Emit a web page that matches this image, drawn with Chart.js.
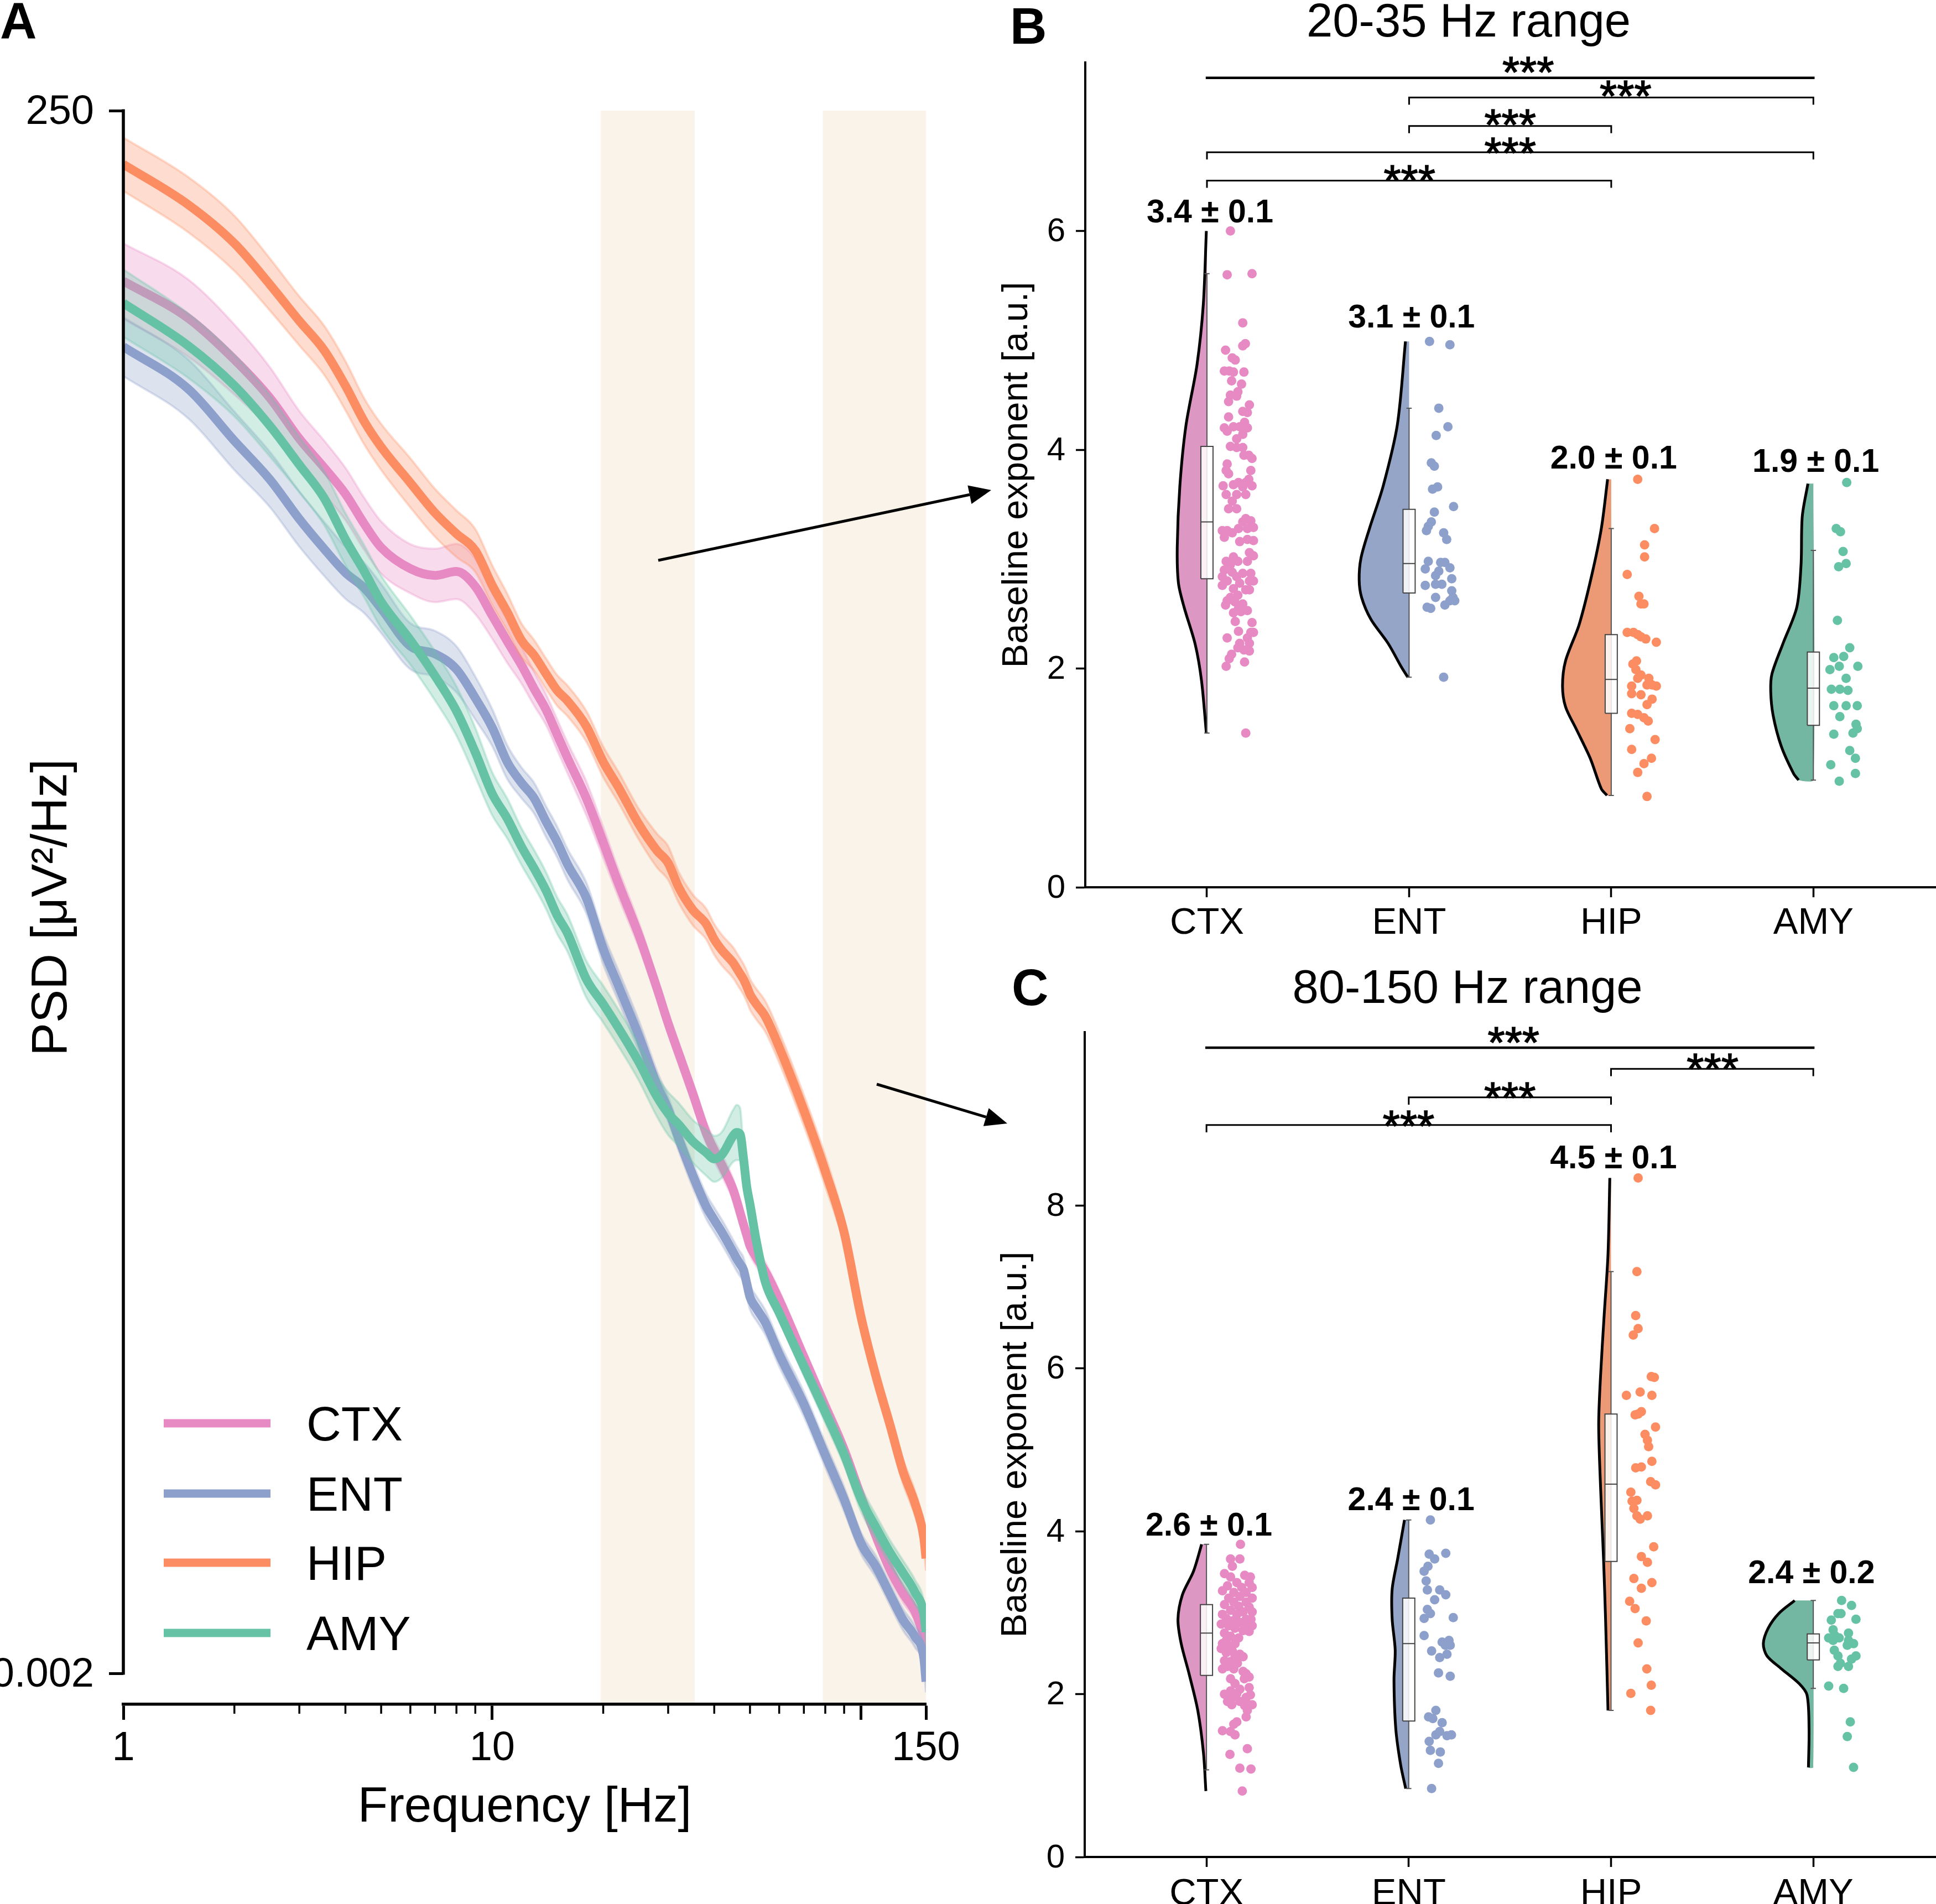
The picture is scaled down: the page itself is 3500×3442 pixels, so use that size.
<!DOCTYPE html>
<html><head><meta charset="utf-8">
<style>html,body{margin:0;padding:0;background:#fff;width:3500px;height:3442px;overflow:hidden}
canvas{position:absolute;left:0;top:0}</style>
<script src="https://cdn.jsdelivr.net/npm/chart.js@4"></script>
</head><body>
<canvas id="a" width="3500" height="3442"></canvas>
<canvas id="b" width="3509" height="3442"></canvas>
<canvas id="c" width="3509" height="3442"></canvas>
<script>
const categories=['CTX','ENT','HIP','AMY'];
const colors={CTX:'#E78AC3',ENT:'#8DA0CB',HIP:'#FC8D62',AMY:'#66C2A5'};
const rgba={CTX:'231,138,195',ENT:'141,160,203',HIP:'252,141,98',AMY:'102,194,165'};
const violinFill={CTX:'#DD97C3',ENT:'#94A5C8',HIP:'#EB9A75',AMY:'#73B6A1'};

// Panel A: frequency in Hz, PSD readings in log10(uV^2/Hz), band half-widths in decades
const freqs=[1,1.5,2,2.5,3,3.5,4,4.5,5,6,7,8,9,10,11,12,13,14,15,16,18,20,22,25,28,30,32,35,38,40,42,45,46,47,48,49,50,52,55,60,70,80,90,100,110,120,130,140,148,150];
const ctxLog=[1.842,1.721,1.586,1.460,1.328,1.234,1.148,1.050,.973,.904,.882,.895,.846,.751,.666,.590,.512,.444,.363,.287,.155,.011,-.123,-.292,-.466,-.579,-.675,-.808,-.935,-.994,-1.043,-1.121,-1.157,-1.196,-1.234,-1.270,-1.305,-1.341,-1.388,-1.481,-1.667,-1.828,-1.969,-2.122,-2.254,-2.362,-2.438,-2.497,-2.582,-2.618];
const entLog=[1.628,1.490,1.321,1.194,1.066,.969,.891,.841,.774,.651,.626,.576,.482,.386,.272,.206,.155,.079,.013,-.060,-.170,-.336,-.457,-.621,-.781,-.859,-.953,-1.075,-1.175,-1.220,-1.261,-1.325,-1.346,-1.364,-1.382,-1.427,-1.472,-1.508,-1.554,-1.658,-1.821,-1.987,-2.131,-2.275,-2.353,-2.443,-2.524,-2.579,-2.649,-2.726];
const hipLog=[2.223,2.091,1.965,1.830,1.712,1.617,1.501,1.384,1.301,1.184,1.086,1.018,.963,.850,.761,.671,.621,.561,.507,.473,.390,.274,.191,.070,-.016,-.056,-.134,-.209,-.254,-.305,-.341,-.381,-.399,-.417,-.435,-.458,-.484,-.516,-.556,-.657,-.863,-1.061,-1.261,-1.536,-1.734,-1.891,-2.041,-2.144,-2.257,-2.324];
const amyLog=[1.770,1.631,1.501,1.369,1.243,1.135,1.000,.895,.796,.671,.554,.440,.305,.170,.088,-.002,-.074,-.146,-.227,-.285,-.435,-.516,-.594,-.706,-.819,-.873,-.908,-.964,-1.000,-1.021,-1.007,-.946,-.935,-.940,-1.018,-1.112,-1.169,-1.288,-1.422,-1.523,-1.698,-1.848,-1.985,-2.131,-2.225,-2.306,-2.371,-2.434,-2.505,-2.564];
const ctxBand=[.123,.126,.114,.1,.09,.088,.085,.085,.085,.08,.087,.09,.09,.075,.07,.06,.055,.05,.05,.05,.055,.05,.045,.04,.035,.035,.035,.035,.035,.035,.035,.035,.035,.035,.03,.03,.03,.03,.03,.03,.03,.03,.03,.03,.03,.03,.03,.03,.03,.03];
const entBand=[.096,.096,.095,.09,.09,.088,.085,.082,.08,.075,.075,.075,.07,.06,.055,.05,.05,.05,.05,.05,.05,.05,.05,.05,.045,.04,.04,.04,.04,.04,.04,.04,.04,.04,.04,.04,.04,.04,.04,.04,.04,.04,.04,.035,.035,.035,.035,.035,.035,.035];
const hipBand=[.087,.09,.09,.085,.08,.08,.08,.075,.075,.08,.078,.076,.07,.065,.06,.055,.05,.05,.05,.05,.05,.05,.05,.05,.055,.055,.05,.05,.05,.05,.05,.05,.05,.05,.05,.05,.05,.05,.05,.05,.05,.05,.04,.04,.04,.04,.04,.04,.04,.04];
const amyBand=[.11,.105,.1,.1,.09,.088,.085,.085,.085,.08,.08,.08,.08,.07,.065,.06,.06,.06,.06,.06,.06,.06,.06,.06,.065,.07,.07,.07,.075,.075,.075,.085,.09,.085,.03,.02,.02,.02,.02,.025,.03,.035,.035,.04,.04,.04,.04,.04,.04,.04];
const shadedBands=[[19.7,35.4],[78.8,150]];
const psdTicks=[250,0.002];
const freqMajor=[1,10,100,150];
const freqLabelled=[1,10,150];
const freqMinor=[2,3,4,5,6,7,8,9,20,30,40,50,60,70,80,90];

// Panel B (20-35 Hz): violin outlines [y, half-density width in category units]
const bCtxViolinY=[6.0,5.33,4.78,4.22,3.67,3.11,2.78,2.56,2.22,1.89,1.41];
const bCtxViolinW=[.003,.018,.049,.104,.134,.147,.141,.113,.058,.027,.003];
const bEntViolinY=[4.99,4.23,3.67,3.28,3.01,2.81,2.65,2.45,2.23,2.01,1.92];
const bEntViolinW=[.018,.058,.128,.196,.238,.247,.235,.189,.104,.037,.006];
const bHipViolinY=[3.73,3.28,2.84,2.40,2.07,1.84,1.65,1.45,1.18,.90,.84];
const bHipViolinW=[.018,.049,.098,.159,.226,.241,.226,.174,.104,.049,.021];
const bAmyViolinY=[3.69,3.39,2.95,2.56,2.23,1.95,1.79,1.57,1.29,1.04,.98];
const bAmyViolinW=[.027,.055,.061,.082,.150,.205,.211,.199,.159,.098,.073];
// box stats: [whiskerLow,q1,median,q3,whiskerHigh]
const bBoxes=[[1.41,2.82,3.34,4.03,5.61],[1.92,2.69,2.96,3.455,4.38],[.84,1.59,1.90,2.31,3.28],[.98,1.48,1.82,2.15,3.08]];
// strip points: [offset from category, y]
const bCtxPts=[[.116,6.0],[.10,5.60],[.223,5.61],[.177,5.16],[.19,4.97],[.177,4.95],[.092,4.91],[.125,4.84],[.14,4.82],[.086,4.72],[.11,4.72],[.131,4.71],[.183,4.71],[.122,4.63],[.171,4.60],[.153,4.53],[.116,4.50],[.147,4.49],[.107,4.44],[.21,4.41],[.177,4.35],[.2,4.34],[.107,4.30],[.186,4.25],[.086,4.20],[.131,4.21],[.162,4.21],[.2,4.20],[.1,4.17],[.177,4.14],[.147,4.10],[.116,4.03],[.147,4.02],[.177,4.02],[.207,3.95],[.183,3.95],[.223,3.92],[.1,3.87],[.095,3.81],[.217,3.81],[.107,3.78],[.207,3.73],[.192,3.70],[.156,3.70],[.131,3.68],[.08,3.67],[.223,3.67],[.177,3.66],[.095,3.59],[.147,3.59],[.125,3.53],[.192,3.59],[.107,3.46],[.147,3.46],[.192,3.37],[.217,3.35],[.177,3.34],[.23,3.29],[.2,3.28],[.076,3.26],[.1,3.26],[.125,3.24],[.156,3.28],[.086,3.2],[.2,3.18],[.23,3.17],[.162,3.16],[.21,3.06],[.23,3.03],[.131,3.02],[.095,2.98],[.116,2.95],[.153,2.98],[.2,2.98],[.086,2.9],[.125,2.88],[.177,2.87],[.217,2.87],[.076,2.84],[.147,2.84],[.1,2.80],[.21,2.80],[.162,2.78],[.23,2.8],[.076,2.76],[.131,2.73],[.192,2.72],[.153,2.67],[.116,2.65],[.21,2.72],[.1,2.62],[.138,2.61],[.177,2.59],[.092,2.58],[.156,2.55],[.2,2.53],[.131,2.51],[.168,2.52],[.14,2.43],[.223,2.42],[.156,2.34],[.217,2.33],[.1,2.28],[.2,2.28],[.23,2.33],[.162,2.23],[.21,2.23],[.153,2.19],[.183,2.17],[.21,2.16],[.122,2.13],[.11,2.09],[.186,2.06],[.095,2.02],[.192,1.41]];
const bEntPts=[[.101,4.99],[.202,4.96],[.147,4.38],[.192,4.21],[.134,4.13],[.11,3.88],[.125,3.85],[.141,3.66],[.116,3.64],[.22,3.48],[.125,3.43],[.11,3.34],[.095,3.3],[.086,3.26],[.171,3.24],[.186,3.18],[.095,2.98],[.156,2.97],[.177,2.97],[.08,2.91],[.202,2.92],[.147,2.89],[.131,2.85],[.211,2.82],[.08,2.76],[.131,2.77],[.162,2.77],[.211,2.71],[.217,2.65],[.131,2.65],[.226,2.62],[.202,2.62],[.177,2.58],[.089,2.56],[.107,2.55],[.171,1.92]];
const bHipPts=[[.131,3.73],[.214,3.28],[.165,3.13],[.165,3.02],[.079,2.86],[.137,2.66],[.147,2.59],[.162,2.59],[.079,2.33],[.11,2.33],[.131,2.31],[.147,2.29],[.171,2.27],[.223,2.24],[.125,2.07],[.107,2.04],[.122,1.99],[.147,1.94],[.131,1.91],[.186,1.91],[.101,1.84],[.177,1.85],[.223,1.84],[.202,1.85],[.101,1.77],[.147,1.76],[.202,1.72],[.177,1.67],[.101,1.59],[.131,1.58],[.162,1.55],[.183,1.52],[.092,1.45],[.217,1.35],[.101,1.26],[.199,1.18],[.162,1.13],[.131,1.05],[.177,.83]];
const bAmyPts=[[.165,3.70],[.113,3.28],[.134,3.25],[.147,3.07],[.162,2.96],[.125,2.93],[.119,2.44],[.18,2.19],[.101,2.10],[.15,2.11],[.082,1.99],[.128,2.02],[.22,2.02],[.162,1.91],[.089,1.81],[.131,1.81],[.171,1.80],[.101,1.66],[.162,1.66],[.217,1.66],[.131,1.56],[.211,1.49],[.217,1.45],[.196,1.41],[.101,1.40],[.18,1.25],[.208,1.18],[.086,1.12],[.208,1.04],[.128,.97]];
const bStats=['3.4 ± 0.1','3.1 ± 0.1','2.0 ± 0.1','1.9 ± 0.1'];
const bStatX=[.015,.012,.012,.012];
const bStatY=[6.08,5.12,3.83,3.80];
// brackets: [from, to, y, drop]
const bBrackets=[[-.006,3.006,7.40,0],[1,3,7.22,.066],[1,2,6.96,.066],[0,3,6.72,.066],[0,2,6.46,.066]];
const bStarX=[1.589,2.071,1.50,1.50,1.002];
const bStarY=[7.50,7.28,7.02,6.76,6.51];

// Panel C (80-150 Hz)
const cCtxViolinY=[3.84,3.51,3.22,2.92,2.62,2.25,1.80,1.28,.81];
const cCtxViolinW=[.024,.064,.119,.141,.125,.086,.043,.015,.003];
const cEntViolinY=[4.14,3.66,3.29,2.92,2.54,2.17,1.57,1.13,.84];
const cEntViolinW=[.021,.055,.082,.082,.067,.073,.064,.040,.015];
const cHipViolinY=[8.34,7.40,6.65,5.90,5.31,4.56,3.66,2.92,1.80];
const cHipViolinW=[.006,.015,.034,.052,.061,.052,.037,.027,.015];
const cAmyViolinY=[3.15,2.99,2.81,2.62,2.47,2.32,2.13,1.99,1.57,1.10];
const cAmyViolinW=[.092,.171,.223,.247,.229,.162,.070,.031,.021,.024];
const cBoxes=[[1.07,2.23,2.75,3.10,3.84],[.84,1.67,2.62,3.18,4.14],[1.80,3.63,4.58,5.44,7.19],[2.07,2.42,2.63,2.74,3.15]];
const cCtxPts=[[.168,3.84],[.119,3.66],[.165,3.66],[.128,3.57],[.089,3.48],[.189,3.46],[.217,3.44],[.119,3.44],[.15,3.37],[.211,3.37],[.104,3.33],[.174,3.31],[.226,3.31],[.079,3.27],[.135,3.25],[.196,3.25],[.165,3.2],[.11,3.18],[.226,3.18],[.135,3.13],[.196,3.13],[.089,3.10],[.159,3.08],[.211,3.07],[.119,3.03],[.181,3.01],[.226,3.01],[.079,2.98],[.15,2.98],[.098,2.93],[.196,2.92],[.128,2.90],[.22,2.92],[.165,2.88],[.073,2.86],[.11,2.84],[.202,2.83],[.226,2.84],[.141,2.81],[.181,2.78],[.211,2.77],[.089,2.75],[.119,2.71],[.159,2.69],[.098,2.66],[.079,2.62],[.141,2.62],[.11,2.58],[.073,2.56],[.128,2.53],[.098,2.51],[.165,2.49],[.141,2.47],[.181,2.46],[.089,2.41],[.119,2.40],[.153,2.38],[.104,2.34],[.135,2.31],[.079,2.31],[.181,2.28],[.196,2.25],[.211,2.21],[.119,2.19],[.187,2.19],[.141,2.13],[.211,2.08],[.165,2.06],[.119,2.04],[.089,2.0],[.15,2.01],[.196,1.96],[.217,1.99],[.128,1.96],[.104,1.91],[.165,1.91],[.211,1.87],[.189,1.86],[.125,1.87],[.226,1.87],[.202,1.80],[.196,1.72],[.15,1.66],[.135,1.63],[.079,1.55],[.119,1.54],[.141,1.5],[.202,1.33],[.116,1.26],[.165,1.09],[.22,1.08],[.177,.81]];
const cEntPts=[[.107,4.14],[.183,3.73],[.101,3.72],[.128,3.66],[.095,3.57],[.076,3.51],[.086,3.39],[.092,3.28],[.153,3.28],[.183,3.22],[.128,3.16],[.092,3.04],[.107,2.99],[.076,2.93],[.22,2.94],[.076,2.72],[.165,2.64],[.199,2.66],[.181,2.6],[.205,2.6],[.113,2.53],[.189,2.49],[.153,2.45],[.147,2.26],[.205,2.22],[.134,1.80],[.098,1.72],[.119,1.70],[.165,1.65],[.153,1.54],[.189,1.49],[.211,1.50],[.134,1.5],[.101,1.42],[.107,1.31],[.156,1.29],[.147,1.15],[.113,.84]];
const cHipPts=[[.134,8.34],[.128,7.19],[.122,6.65],[.134,6.49],[.11,6.41],[.199,5.90],[.214,5.89],[.076,5.67],[.144,5.71],[.202,5.67],[.15,5.47],[.134,5.44],[.119,5.43],[.22,5.28],[.168,5.19],[.18,5.12],[.186,5.04],[.202,4.86],[.122,4.78],[.15,4.79],[.196,4.61],[.22,4.57],[.098,4.48],[.128,4.38],[.104,4.37],[.113,4.28],[.128,4.19],[.18,4.19],[.144,4.15],[.211,3.81],[.15,3.69],[.18,3.62],[.113,3.42],[.202,3.37],[.15,3.30],[.092,3.14],[.119,3.05],[.174,2.9],[.134,2.63],[.177,2.31],[.199,2.11],[.098,2.01],[.196,1.80]];
const cAmyPts=[[.14,3.15],[.189,3.09],[.122,2.99],[.137,2.99],[.089,2.91],[.211,2.92],[.098,2.79],[.076,2.69],[.107,2.72],[.174,2.75],[.128,2.69],[.098,2.66],[.174,2.66],[.199,2.62],[.168,2.6],[.104,2.54],[.122,2.47],[.211,2.47],[.189,2.43],[.134,2.38],[.122,2.34],[.174,2.34],[.076,2.10],[.15,2.07],[.183,1.66],[.168,1.48],[.199,1.10]];
const cStats=['2.6 ± 0.1','2.4 ± 0.1','4.5 ± 0.1','2.4 ± 0.2'];
const cStatX=[.012,.012,.012,-.009];
const cStatY=[3.95,4.26,8.46,3.36];
const cBrackets=[[-.006,3.006,9.94,0],[2,3,9.68,.09],[1,2,9.33,.09],[0,2,8.99,.09]];
const cStarX=[1.518,2.502,1.50,.999];
const cStarY=[10.07,9.74,9.39,9.04];

Chart.defaults.font.family="'Liberation Sans',Arial,sans-serif";
Chart.defaults.color='#000';
Chart.defaults.animation=false;
Chart.defaults.responsive=false;
Chart.defaults.devicePixelRatio=1;
Chart.defaults.plugins.legend.display=false;
Chart.defaults.plugins.tooltip.enabled=false;
const FF="'Liberation Sans',Arial,sans-serif";
const noPad=s=>{s.paddingLeft=0;s.paddingRight=0;s.paddingTop=0;s.paddingBottom=0;};

// ---------- Panel A ----------
const toPSD=v=>Math.pow(10,v);
const seriesA=[['CTX',ctxLog,ctxBand],['ENT',entLog,entBand],['HIP',hipLog,hipBand],['AMY',amyLog,amyBand]];
const dsA=[];
seriesA.forEach(([name,vals,band],k)=>{
  const base=(3-k)*3; // later series are drawn on top
  const c=rgba[name];
  const smooth={cubicInterpolationMode:'monotone',pointRadius:0};
  dsA.push({label:name,data:freqs.map((f,i)=>({x:f,y:toPSD(vals[i])})),borderColor:colors[name],borderWidth:16,fill:false,borderJoinStyle:'round',order:base+1,...smooth});
  dsA.push({label:name+' upper',data:freqs.map((f,i)=>({x:f,y:toPSD(vals[i]+band[i])})),borderColor:`rgba(${c},.3)`,backgroundColor:`rgba(${c},.3)`,borderWidth:4,fill:'+1',order:base+2,...smooth});
  dsA.push({label:name+' lower',data:freqs.map((f,i)=>({x:f,y:toPSD(vals[i]-band[i])})),borderColor:`rgba(${c},.3)`,borderWidth:4,fill:false,order:base+3,...smooth});
});
const pluginA={id:'panelA',
  beforeDatasetsDraw(ch){
    const {ctx,chartArea:a,scales:{x}}=ch;ctx.save();ctx.fillStyle='#FAF3EA';
    shadedBands.forEach(([l,h])=>{const p=x.getPixelForValue(l),q=x.getPixelForValue(h);ctx.fillRect(p,a.top,q-p,a.bottom-a.top-3);});
    ctx.restore();
  },
  afterDraw(ch){
    const {ctx,chartArea:a,scales:{x,y}}=ch;ctx.save();
    // y spine stops at the lowest tick; x-axis minor ticks
    ctx.strokeStyle='#000';ctx.lineWidth=5.5;ctx.beginPath();
    ctx.moveTo(a.left,y.getPixelForValue(psdTicks[0])-2.5);ctx.lineTo(a.left,y.getPixelForValue(psdTicks[1])+2.5);ctx.stroke();
    ctx.lineWidth=3.5;
    freqMinor.forEach(f=>{const p=x.getPixelForValue(f);ctx.beginPath();ctx.moveTo(p,a.bottom);ctx.lineTo(p,a.bottom+17);ctx.stroke();});
    // legend
    const rows=[2573,2700,2825,2952];
    categories.forEach((n,i)=>{
      ctx.strokeStyle=colors[n];ctx.lineWidth=15;ctx.beginPath();ctx.moveTo(296,rows[i]);ctx.lineTo(489,rows[i]);ctx.stroke();
      ctx.fillStyle='#000';ctx.font=`87px ${FF}`;ctx.textAlign='left';ctx.textBaseline='alphabetic';ctx.fillText(n,554,rows[i]+31);
    });
    ctx.fillStyle='#000';ctx.font=`bold 92px ${FF}`;ctx.fillText('A',0,69);
    // arrows
    [[1190,1013,1792,886],[1585,1960,1821,2031]].forEach(([x0,y0,x1,y1])=>{
      const t=Math.atan2(y1-y0,x1-x0),L=40,W=17;
      const bx=x1-L*Math.cos(t),by=y1-L*Math.sin(t);
      ctx.strokeStyle='#000';ctx.lineWidth=5;ctx.beginPath();ctx.moveTo(x0,y0);ctx.lineTo(bx,by);ctx.stroke();
      ctx.fillStyle='#000';ctx.beginPath();ctx.moveTo(x1,y1);
      ctx.lineTo(bx-W*Math.sin(t),by+W*Math.cos(t));ctx.lineTo(bx+W*Math.sin(t),by-W*Math.cos(t));ctx.closePath();ctx.fill();
    });
    ctx.restore();
  }
};
new Chart(document.getElementById('a'),{type:'line',
  data:{datasets:dsA},
  plugins:[pluginA],
  options:{
    layout:{padding:{left:0,right:1826,top:200,bottom:120}},
    scales:{
      x:{type:'logarithmic',min:1,max:150,
        afterFit:s=>{noPad(s);s.height=241},
        afterBuildTicks:s=>{s.ticks=freqMajor.map(v=>({value:v,major:true}))},
        ticks:{autoSkip:false,maxRotation:0,padding:8,font:{size:74},callback:v=>freqLabelled.includes(v)?String(v):''},
        grid:{drawOnChartArea:false,drawTicks:true,tickLength:28,tickWidth:5,tickColor:'#000'},
        border:{display:true,color:'#000',width:5.5},
        title:{display:true,text:'Frequency [Hz]',font:{size:89},padding:0}},
      y:{type:'logarithmic',min:0.001585,max:250,
        afterFit:s=>{noPad(s);s.width=223},
        afterBuildTicks:s=>{s.ticks=psdTicks.map(v=>({value:v}))},
        ticks:{autoSkip:false,padding:27,labelOffset:4,font:{size:74},callback:v=>String(v)},
        grid:{drawOnChartArea:false,drawTicks:true,tickLength:26,tickWidth:5,tickColor:'#000'},
        border:{display:false},
        title:{display:true,text:'PSD [μV²/Hz]',font:{size:90},padding:{top:41,bottom:0}}}
    }
  }
});

// ---------- Panels B and C ----------
function rainDatasets(violins,boxes,pts,brackets){
  const ds=[];
  brackets.forEach(([i,j,y,d],n)=>{
    ds.push({data:d?[{x:i,y:y-d},{x:i,y},{x:j,y},{x:j,y:y-d}]:[{x:i,y},{x:j,y}],showLine:true,borderColor:'#000',borderWidth:d?3:4.5,pointRadius:0,fill:false,tension:0,order:5});
  });
  categories.forEach((n,k)=>{
    const [vy,vw]=violins[k];
    const curve=vy.map((y,i)=>({x:k-vw[i],y}));
    const [lo,q1,med,q3,hi]=boxes[k];
    const hw=.03,cap=.013;
    ds.push({data:pts[k].map(([o,y])=>({x:k+o,y})),pointRadius:8.5,pointBackgroundColor:colors[n],pointBorderWidth:0,showLine:false,order:1});
    // median, box, whiskers drawn over the violin
    ds.push({data:[{x:k-hw,y:med},{x:k+hw,y:med}],showLine:true,borderColor:'#444',borderWidth:2,pointRadius:0,tension:0,order:2});
    ds.push({data:[{x:k-hw,y:q1},{x:k+hw,y:q1},{x:k+hw,y:q3},{x:k-hw,y:q3},{x:k-hw,y:q1}],showLine:true,borderColor:'#444',borderWidth:2,backgroundColor:'rgba(255,255,255,.85)',fill:'shape',pointRadius:0,tension:0,order:3});
    ds.push({data:[{x:k-cap,y:hi},{x:k+cap,y:hi},{x:k,y:hi},{x:k,y:lo},{x:k-cap,y:lo},{x:k+cap,y:lo}],showLine:true,borderColor:'#555',borderWidth:2,pointRadius:0,tension:0,order:4});
    ds.push({data:curve,showLine:true,borderColor:'#000',borderWidth:5,pointRadius:0,tension:.3,fill:false,order:6});
    ds.push({data:[...curve,{x:k,y:vy[vy.length-1]},{x:k,y:vy[0]}],showLine:true,borderWidth:0,borderColor:'rgba(0,0,0,0)',backgroundColor:violinFill[n],fill:'shape',pointRadius:0,tension:.2,order:7});
  });
  return ds;
}
function rainPlugin(title,titleCx,titleBase,letter,letterX,letterBase,stats,statX,statY,starX,starY){
  return {id:'txt'+letter,afterDraw(ch){
    const {ctx,scales:{x,y}}=ch;ctx.save();ctx.fillStyle='#000';ctx.textBaseline='alphabetic';
    ctx.textAlign='center';ctx.font=`85px ${FF}`;ctx.fillText(title,titleCx,titleBase);
    ctx.font=`bold 59px ${FF}`;
    stats.forEach((t,i)=>ctx.fillText(t,x.getPixelForValue(i+statX[i]),y.getPixelForValue(statY[i])));
    ctx.font=`80px ${FF}`;ctx.strokeStyle='#000';ctx.lineWidth=1.5;
    starX.forEach((sx,i)=>{const px=x.getPixelForValue(sx),py=y.getPixelForValue(starY[i])+37;ctx.fillText('***',px,py);ctx.strokeText('***',px,py);});
    ctx.textAlign='left';ctx.font=`bold 92px ${FF}`;ctx.fillText(letter,letterX,letterBase);
    ctx.restore();
  }};
}
function rainOptions(pad,yw,xh,ymax,yticks,xpad){
  return {
    layout:{padding:pad},
    scales:{
      x:{type:'linear',min:-.602,max:3.608,
        afterFit:s=>{noPad(s);s.height=xh},
        afterBuildTicks:s=>{s.ticks=categories.map((c,i)=>({value:i}))},
        ticks:{autoSkip:false,maxRotation:0,padding:xpad,font:{size:67},callback:v=>categories[v]},
        grid:{drawOnChartArea:false,drawTicks:true,tickLength:18,tickWidth:3.5,tickColor:'#000'},
        border:{display:true,color:'#000',width:4}},
      y:{type:'linear',min:0,max:ymax,
        afterFit:s=>{noPad(s);s.width=yw},
        afterBuildTicks:s=>{s.ticks=yticks.map(v=>({value:v}))},
        ticks:{autoSkip:false,padding:19,labelOffset:2,font:{size:60},callback:v=>String(v)},
        grid:{drawOnChartArea:false,drawTicks:true,tickLength:17,tickWidth:3.5,tickColor:'#000'},
        border:{display:true,color:'#000',width:4},
        title:{display:true,text:'Baseline exponent [a.u.]',font:{size:65},padding:0}}
    }
  };
}
const bViolins=[[bCtxViolinY,bCtxViolinW],[bEntViolinY,bEntViolinW],[bHipViolinY,bHipViolinW],[bAmyViolinY,bAmyViolinW]];
const cViolins=[[cCtxViolinY,cCtxViolinW],[cEntViolinY,cEntViolinW],[cHipViolinY,cHipViolinW],[cAmyViolinY,cAmyViolinW]];
new Chart(document.getElementById('b'),{type:'scatter',
  data:{datasets:rainDatasets(bViolins,bBoxes,[bCtxPts,bEntPts,bHipPts,bAmyPts],bBrackets)},
  plugins:[rainPlugin('20-35 Hz range',2655,66,'B',1826,79,bStats,bStatX,bStatY,bStarX,bStarY)],
  options:rainOptions({left:1800,right:0,top:113,bottom:3442-1604-120},162,120,7.54,[0,2,4,6],7)
});
new Chart(document.getElementById('c'),{type:'scatter',
  data:{datasets:rainDatasets(cViolins,cBoxes,[cCtxPts,cEntPts,cHipPts,cAmyPts],cBrackets)},
  plugins:[rainPlugin('80-150 Hz range',2653,1813,'C',1829,1817,cStats,cStatX,cStatY,cStarX,cStarY)],
  options:rainOptions({left:1798,right:0,top:1866,bottom:0},163,85,10.13,[0,2,4,6,8],9)
});
</script>
</body></html>
